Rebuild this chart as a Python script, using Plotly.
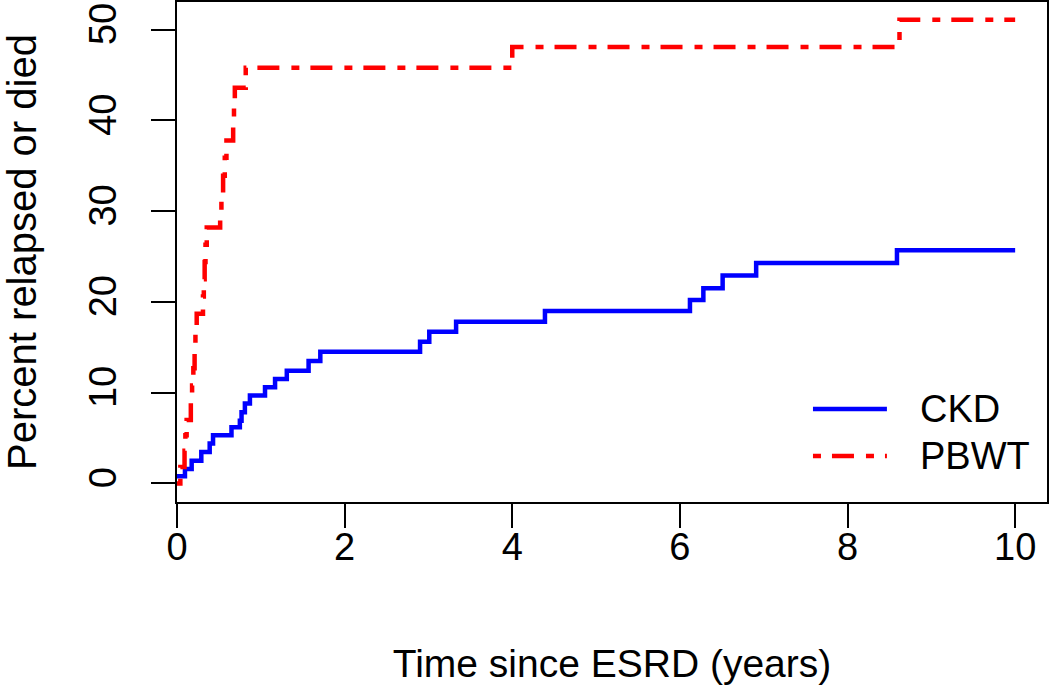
import plotly.graph_objects as go

# ---- data ----
ckd_time = [0.0, 0.095, 0.175, 0.29, 0.39, 0.43, 0.65, 0.75, 0.77, 0.81, 0.87, 1.05, 1.17, 1.31,
            1.57, 1.71, 2.90, 3.01, 3.33, 4.39, 6.12, 6.28, 6.51, 6.91, 8.59, 10.0]
ckd_pct = [0.8, 1.6, 2.5, 3.45, 4.4, 5.3, 6.2, 6.9, 7.85, 8.8, 9.7, 10.6, 11.5, 12.4,
           13.5, 14.5, 15.6, 16.7, 17.8, 19.0, 20.2, 21.5, 22.9, 24.3, 25.7, 25.7]

pbwt_time = [0.0, 0.04, 0.09, 0.10, 0.115, 0.165, 0.18, 0.195, 0.21, 0.22, 0.235, 0.31, 0.32,
             0.33, 0.34, 0.355, 0.515, 0.53, 0.55, 0.57, 0.59, 0.67, 0.68, 0.69, 0.82, 4.0,
             8.62, 10.0]
pbwt_pct = [0.0, 1.8, 3.6, 5.3, 7.0, 8.9, 10.8, 12.7, 14.7, 16.7, 18.7, 20.6, 22.5,
            24.4, 26.3, 28.2, 30.1, 32.0, 33.9, 35.9, 37.8, 39.7, 41.6, 43.6, 45.8, 48.1,
            51.1, 51.1]

series_names = ["CKD", "PBWT"]
x_ticks = [0, 2, 4, 6, 8, 10]
y_ticks = [0, 10, 20, 30, 40, 50]
x_title = "Time since ESRD (years)"
y_title = "Percent relapsed or died"

# ---- styling ----
FONT = "Liberation Sans, Arial, Helvetica, sans-serif"
FS = 38
BLUE = "#0000FF"
RED = "#FF0000"
LW = 4.5
DOTDASH = "8px,11px,22px,12px"

fig = go.Figure()
fig.add_trace(go.Scatter(x=ckd_time, y=ckd_pct, mode="lines", name=series_names[0],
                         line=dict(color=BLUE, width=LW, shape="hv"), showlegend=False))
fig.add_trace(go.Scatter(x=pbwt_time, y=pbwt_pct, mode="lines", name=series_names[1],
                         line=dict(color=RED, width=LW, shape="hv", dash=DOTDASH),
                         showlegend=False))

axis_common = dict(
    showgrid=False, zeroline=False, showline=True, mirror=True,
    linecolor="black", linewidth=2, ticks="outside", ticklen=24, tickwidth=2,
    tickcolor="black", tickfont=dict(family=FONT, size=FS, color="black"),
)

fig.update_xaxes(range=[0, 10.38], tickvals=x_ticks, ticktext=[str(v) for v in x_ticks],
                 title_text=x_title, title_standoff=83, ticklabelstandoff=-14,
                 title_font=dict(family=FONT, size=39, color="black"), **axis_common)
fig.update_yaxes(range=[-2.05, 53.05], tickvals=y_ticks, ticktext=[str(v) for v in y_ticks],
                 tickangle=-90, title_text=y_title, title_standoff=44, ticklabelstandoff=20,
                 title_font=dict(family=FONT, size=40, color="black"), **axis_common)

# legend drawn as in the reference (long line samples)
legend_rows = [(0.186, BLUE, "solid"), (0.092, RED, DOTDASH)]
for (yy, col, dsh), name in zip(legend_rows, series_names):
    fig.add_shape(type="line", xref="paper", yref="paper", x0=0.731, x1=0.816, y0=yy, y1=yy,
                  line=dict(color=col, width=LW, dash=dsh))
    fig.add_annotation(xref="paper", yref="paper", x=0.852, y=yy, text=name, showarrow=False,
                       xanchor="left", yanchor="middle",
                       font=dict(family=FONT, size=FS, color="black"))

fig.update_layout(
    width=1050, height=689,
    margin=dict(l=177, r=3, t=2, b=187, autoexpand=False),
    paper_bgcolor="white", plot_bgcolor="white",
    showlegend=False,
)

fig.write_html("out.html", config={"displayModeBar": False},
               post_script="document.body.style.margin='0';document.body.style.padding='0';"
                           "document.body.style.overflow='hidden';")
